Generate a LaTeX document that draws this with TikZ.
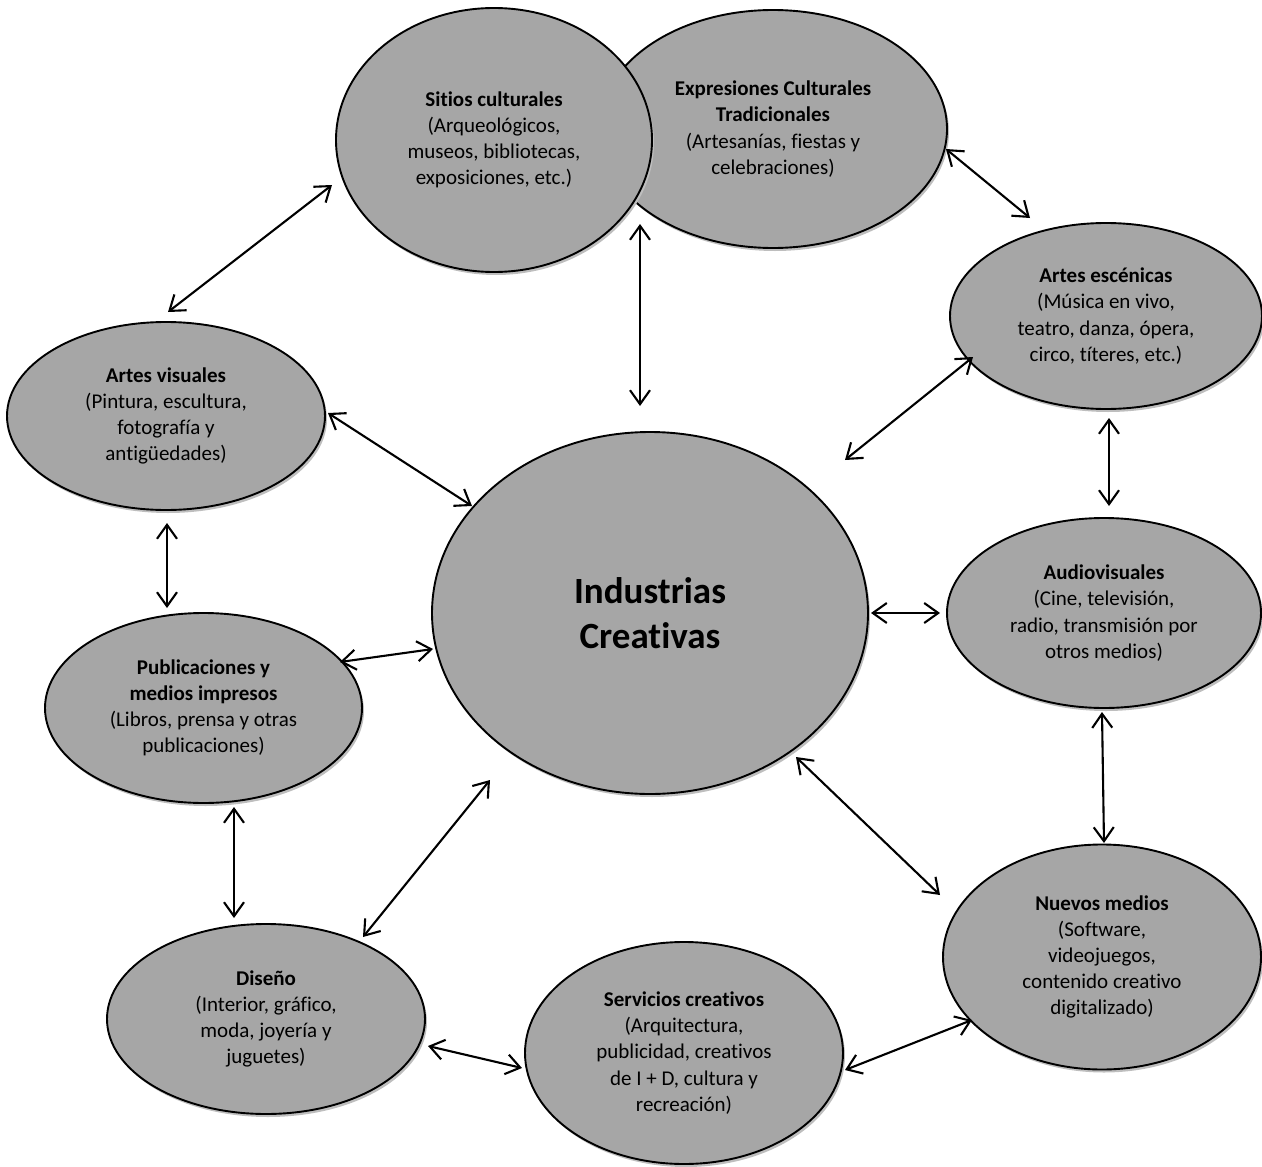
\documentclass[tikz,border=0pt]{standalone}
\usepackage{fontspec}
\setmainfont{Carlito}[Ligatures=NoCommon]
\usetikzlibrary{shapes.geometric,shadows,arrows.meta,calc}
\definecolor{bubblefill}{HTML}{A6A6A6}
\definecolor{bubbleshade}{HTML}{BEBEBE}
\begin{document}
\begin{tikzpicture}[x=1pt,y=-1pt,
  bubble/.style={ellipse, draw=black, line width=1.9pt, fill=bubblefill,
    inner sep=0pt, outer sep=0pt, align=center, text=black,
    font=\fontsize{21}{26.2}\selectfont,
    drop shadow={shadow xshift=2pt, shadow yshift=-3pt, fill=bubbleshade, opacity=1}},
  link/.style={line width=2.1pt,
    {Straight Barb[length=14pt,width=20pt]}-{Straight Barb[length=14pt,width=20pt]}}
]
\useasboundingbox (0,0) rectangle (1262,1167);

% top pair: Expresiones lies behind Sitios
\node[bubble, minimum width=348pt, minimum height=238pt] (exp) at (773,129)
  {\textbf{Expresiones Culturales}\\\textbf{Tradicionales}\\(Artesanías, fiestas y\\celebraciones)};
\node[bubble, minimum width=316pt, minimum height=264pt] (sit) at (494,140)
  {\textbf{Sitios culturales}\\(Arqueológicos,\\museos, bibliotecas,\\exposiciones, etc.)};

% ring of sectors
\node[bubble, minimum width=312pt, minimum height=186pt] (esc) at (1106,316)
  {\textbf{Artes escénicas}\\(Música en vivo,\\teatro, danza, ópera,\\circo, títeres, etc.)};
\node[bubble, minimum width=318pt, minimum height=188pt] (vis) at (166,416)
  {\textbf{Artes visuales}\\(Pintura, escultura,\\fotografía y\\antigüedades)};
\node[bubble, minimum width=314pt, minimum height=190pt] (aud) at (1104,613)
  {\textbf{Audiovisuales}\\(Cine, televisión,\\radio, transmisión por\\otros medios)};
\node[bubble, minimum width=317pt, minimum height=190pt] (pub) at (203.5,708)
  {\textbf{Publicaciones y}\\\textbf{medios impresos}\\(Libros, prensa y otras\\publicaciones)};
\node[bubble, minimum width=318pt, minimum height=190pt] (dis) at (266,1019)
  {\textbf{Diseño}\\(Interior, gráfico,\\moda, joyería y\\juguetes)};
\node[bubble, minimum width=318pt, minimum height=222pt] (ser) at (684,1053)
  {\textbf{Servicios creativos}\\(Arquitectura,\\publicidad, creativos\\de I + D, cultura y\\recreación)};
\node[bubble, minimum width=318pt, minimum height=225pt] (nue) at (1102,957)
  {\textbf{Nuevos medios}\\(Software,\\videojuegos,\\contenido creativo\\digitalizado)};

% centre
\node[bubble, minimum width=436pt, minimum height=362pt,
  font=\fontsize{37}{45}\selectfont\bfseries] (ind) at (650,613)
  {Industrias\\Creativas};

% two-way links
\draw[link] ($(sit)+(-162,45)$) -- ($(vis)+(2,-104)$);
\draw[link] ($(sit)+(146,84)$) -- ($(ind)+(-10,-207)$);
\draw[link] ($(exp)+(173,20)$) -- ($(esc)+(-76,-98)$);
\draw[link] ($(esc)+(-133,41)$) -- ($(ind)+(195,-153)$);
\draw[link] ($(esc)+(3,102)$) -- ($(aud)+(5,-107)$);
\draw[link] ($(ind)+(221,0)$) -- ($(aud)+(-164,0)$);
\draw[link] ($(aud)+(-2,99)$) -- ($(nue)+(2,-114)$);
\draw[link] ($(ind)+(146,144)$) -- ($(nue)+(-162,-62)$);
\draw[link] ($(ser)+(161,17)$) -- ($(nue)+(-130,63)$);
\draw[link] ($(dis)+(162,27)$) -- ($(ser)+(-162,15)$);
\draw[link] ($(dis)+(97,-82)$) -- ($(ind)+(-160,167)$);
\draw[link] ($(pub)+(30.5,99)$) -- ($(dis)+(-32,-101)$);
\draw[link] ($(pub)+(136.5,-46)$) -- ($(ind)+(-217,36)$);
\draw[link] ($(vis)+(1,107)$) -- ($(pub)+(-36.5,-100)$);
\draw[link] ($(vis)+(162,-3)$) -- ($(ind)+(-178,-107)$);
\end{tikzpicture}
\end{document}
